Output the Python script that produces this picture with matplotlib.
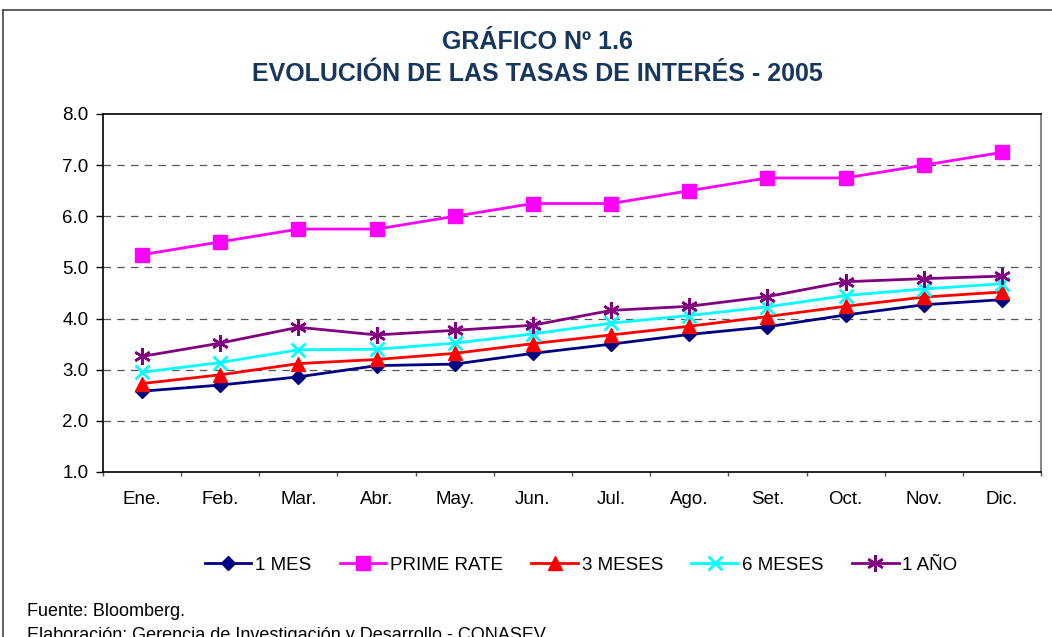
import numpy as np
import matplotlib.pyplot as plt
from matplotlib.lines import Line2D

plt.rcParams['font.family'] = ['Liberation Sans', 'DejaVu Sans']

# datos (tasas, %)
meses = ['Ene.', 'Feb.', 'Mar.', 'Abr.', 'May.', 'Jun.', 'Jul.', 'Ago.', 'Set.', 'Oct.', 'Nov.', 'Dic.']
mes_1 = [2.58, 2.70, 2.86, 3.08, 3.11, 3.32, 3.50, 3.69, 3.84, 4.07, 4.27, 4.37]
prime = [5.25, 5.50, 5.75, 5.75, 6.00, 6.25, 6.25, 6.50, 6.75, 6.75, 7.00, 7.25]
meses_3 = [2.73, 2.90, 3.12, 3.20, 3.32, 3.51, 3.68, 3.85, 4.04, 4.24, 4.42, 4.52]
meses_6 = [2.95, 3.14, 3.39, 3.40, 3.52, 3.70, 3.91, 4.06, 4.23, 4.45, 4.58, 4.68]
anio_1 = [3.26, 3.52, 3.83, 3.68, 3.77, 3.87, 4.16, 4.24, 4.43, 4.72, 4.78, 4.83]

W, H = 1052, 637
fig = plt.figure(figsize=(W / 100, H / 100), dpi=100)

# marco
fig.add_artist(Line2D([3 / W, 3 / W], [0, 1 - 10 / H], color='#444444', lw=1.2))
fig.add_artist(Line2D([3 / W, 1], [1 - 10 / H, 1 - 10 / H], color='#444444', lw=1.2))

x0, x1, y0, y1 = 103, 1041, 114, 472
ax = fig.add_axes([x0 / W, 1 - y1 / H, (x1 - x0) / W, (y1 - y0) / H])

x = np.arange(len(meses))
lw = 2
ax.plot(x, mes_1, color='#000080', lw=lw, marker='D', ms=7.5, label='1 MES')
ax.plot(x, prime, color='#FF00FF', lw=lw, marker='s', ms=9.5, label='PRIME RATE')
ax.plot(x, meses_3, color='#FF0000', lw=lw, marker='^', ms=10.5, label='3 MESES')
ax.plot(x, meses_6, color='#00FFFF', lw=lw, marker='x', ms=10, mew=2, label='6 MESES')
ax.plot(x, anio_1, color='#800080', lw=lw, marker=(6, 2, 0), ms=12, mew=1.8, label='1 AÑO')

fs = 13.5
ax.set_xlim(-0.5, len(meses) - 0.5)
ax.set_ylim(1.0, 8.0)
ax.set_yticks(np.arange(1.0, 8.01, 1.0))
ax.set_yticklabels(['%.1f' % v for v in np.arange(1.0, 8.01, 1.0)])
ax.set_xticks(x)
ax.set_xticklabels(meses)
ax.set_xticks(np.arange(-0.5, len(meses)), minor=True)
ax.tick_params(axis='x', which='major', length=0, pad=14, labelsize=fs)
ax.tick_params(axis='x', which='minor', length=3, width=1, color='#555555')
ax.tick_params(axis='y', length=5, width=1, labelsize=fs, pad=5.5)

for v in range(2, 8):
    ax.axhline(v, color='#555555', lw=0.9, ls=(0, (6, 5)), zorder=0)

for s in ['left', 'bottom', 'top']:
    ax.spines[s].set_color('black')
    ax.spines[s].set_linewidth(1.2)
ax.spines['right'].set_color('#888888')
ax.spines['right'].set_linewidth(1.5)

fig.text(537 / W, 1 - 42 / H, 'GRÁFICO Nº 1.6', ha='center', va='center',
         fontsize=18, fontweight='bold', color='#17375E')
fig.text(537 / W, 1 - 74 / H, 'EVOLUCIÓN DE LAS TASAS DE INTERÉS - 2005', ha='center', va='center',
         fontsize=18, fontweight='bold', color='#17375E')

fig.legend(loc='center', bbox_to_anchor=(581 / W, 1 - 565 / H), ncol=5, frameon=False,
           fontsize=fs, handlelength=2.5, handletextpad=0.2, columnspacing=1.5)

fig.text(27 / W, 1 - 611 / H, 'Fuente: Bloomberg.', ha='left', va='center', fontsize=13)
fig.text(27 / W, 1 - 636 / H, 'Elaboración: Gerencia de Investigación y Desarrollo - CONASEV',
         ha='left', va='center', fontsize=13)

fig.savefig('out.png', dpi=100)
